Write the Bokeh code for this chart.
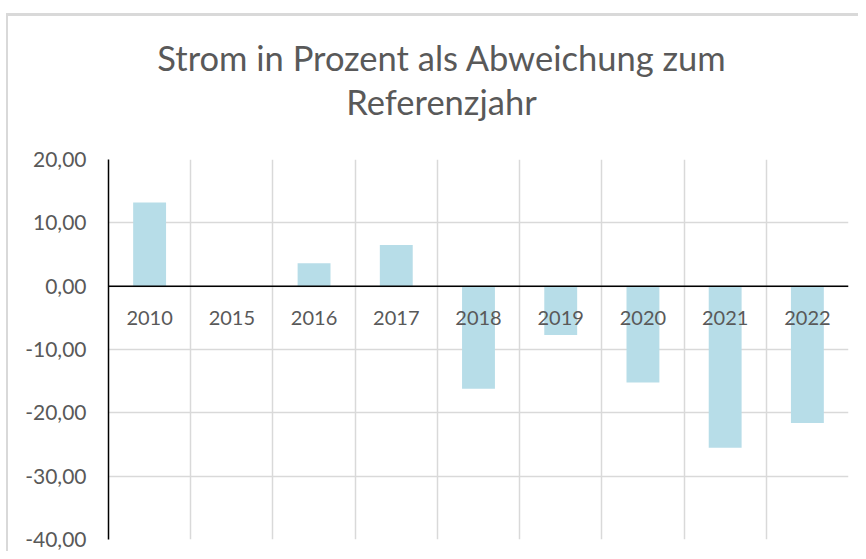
from bokeh.plotting import figure
from bokeh.layouts import column, row
from bokeh.models import Range1d, FixedTicker, Span, Div, ColumnDataSource
from bokeh.core.properties import value
from bokeh.embed import file_html
from bokeh.resources import INLINE
import numpy as np

# ---- data ----
years = ["2010", "2015", "2016", "2017", "2018", "2019", "2020", "2021", "2022"]
values = [13.2, 0.0, 3.6, 6.5, -16.2, -7.7, -15.2, -25.5, -21.6]
y_ticks = [-40, -30, -20, -10, 0, 10, 20]
y_tick_labels = ["-40,00", "-30,00", "-20,00", "-10,00", "0,00", "10,00", "20,00"]
title_line1 = "Strom in Prozent als Abweichung zum"
title_line2 = "Referenzjahr"

FONT = "Lato"
GREY_TXT = "#595959"
GRID = "#D9D9D9"
BAR = "#B7DDE8"

TOTAL_H = 551
SIDE = 8            # width of the strip that carries the chart-area's left border
HEAD = 130          # height of the title block
W = 850
LEFT, FW, FH = 100, 740, 380

xs = np.arange(len(years)) + 0.5
src = ColumnDataSource(dict(x=xs, top=values, year=years, zero=[0.0] * len(years)))

# ---- left border strip ----
side_html = (
    f'<div style="position:relative;width:{SIDE}px;height:{TOTAL_H}px;">'
    f'<div style="position:absolute;left:6px;top:13px;width:2px;height:{TOTAL_H - 13}px;'
    f'background:{GRID};"></div></div>'
)
side = Div(text=side_html, width=SIDE, height=TOTAL_H, margin=(0, 0, 0, 0))

# ---- title block (HTML) ----
title_html = (
    f'<div style="position:relative;width:{W}px;height:{HEAD}px;">'
    f'<div style="position:absolute;left:0;top:13px;width:{W}px;height:2.5px;background:{GRID};"></div>'
    f'<div style="position:absolute;left:0;top:36px;width:867px;text-align:center;'
    f'font-family:{FONT};font-size:34.5px;line-height:44px;color:{GREY_TXT};">'
    f'{title_line1}<br>{title_line2}</div></div>'
)
head = Div(text=title_html, width=W, height=HEAD, margin=(0, 0, 0, 0))

p = figure(
    width=W, height=TOTAL_H - HEAD,
    x_range=Range1d(0, len(years)), y_range=Range1d(-40, 20),
    x_axis_location=None,
    toolbar_location=None, output_backend="svg",
    min_border_left=LEFT, min_border_right=10, min_border_bottom=12,
    min_border_top=159 - HEAD, margin=(0, 0, 0, 0),
)
p.frame_width = FW
p.frame_height = FH
p.outline_line_color = None
p.background_fill_color = "white"
p.border_fill_color = "white"

# grids
p.ygrid.ticker = FixedTicker(ticks=y_ticks)
p.ygrid.grid_line_color = GRID
p.ygrid.grid_line_width = 1.5
p.xgrid.ticker = FixedTicker(ticks=list(range(len(years) + 1)))
p.xgrid.grid_line_color = GRID
p.xgrid.grid_line_width = 1.5

# y axis
yax = p.yaxis[0]
yax.ticker = FixedTicker(ticks=y_ticks)
yax.major_label_overrides = {t: l for t, l in zip(y_ticks, y_tick_labels)}
yax.axis_line_color = "black"
yax.axis_line_width = 1.5
yax.major_tick_line_color = None
yax.minor_tick_line_color = None
yax.major_tick_out = 0
yax.major_tick_in = 0
yax.major_label_standoff = 22
yax.major_label_text_font = FONT
yax.major_label_text_font_size = "21px"
yax.major_label_text_color = GREY_TXT

# bars
p.vbar(x="x", top="top", bottom=0, width=0.4, source=src,
       fill_color=BAR, line_color=None)

# zero line
p.add_layout(Span(location=0, dimension="width", line_color="black", line_width=1.5))

# category labels just below zero line
p.text(x="x", y="zero", text="year", source=src, text_align="center",
       text_baseline="middle", y_offset=32, text_font=value(FONT),
       text_font_size="20px", text_color=GREY_TXT)

layout = row(side, column(head, p, spacing=0), spacing=0)
open("out.html", "w").write(file_html(layout, INLINE))
